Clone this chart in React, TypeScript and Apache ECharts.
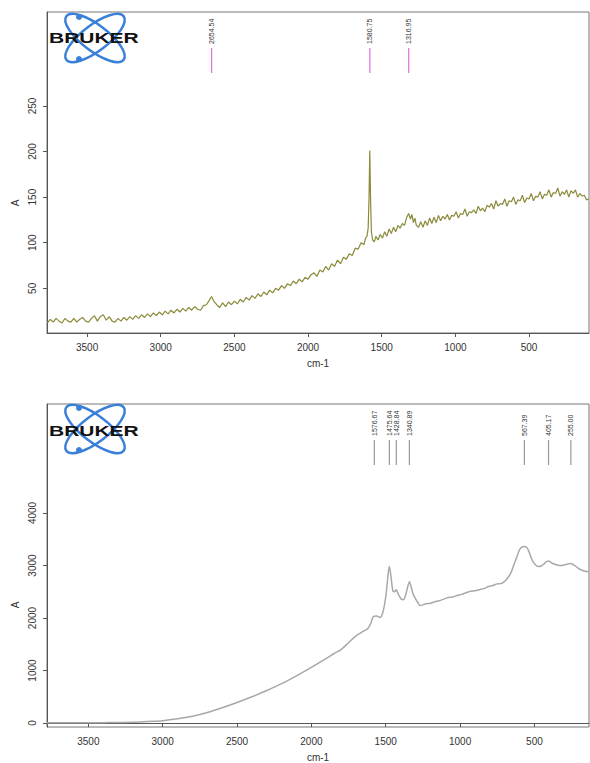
import React, { useEffect, useRef } from "react";
import * as echarts from "echarts";

// Top spectrum: [wavenumber cm-1, intensity A]
const topSpectrum: [number, number][] = [
  [3770, 12], [3750, 16], [3730, 13], [3710, 17], [3690, 14], [3670, 12], [3650, 17], [3630, 14],
  [3610, 13], [3590, 17], [3570, 13], [3550, 16], [3530, 18], [3510, 14], [3490, 13], [3470, 17],
  [3450, 20], [3430, 14], [3410, 19], [3390, 21], [3370, 15], [3350, 19], [3330, 14], [3310, 13],
  [3290, 17], [3270, 14], [3250, 18], [3230, 15], [3210, 19], [3190, 16], [3170, 20], [3150, 17],
  [3130, 21], [3110, 18], [3090, 22], [3070, 19], [3050, 23], [3030, 20], [3010, 24], [2990, 21],
  [2970, 25], [2950, 22], [2930, 26], [2910, 23], [2890, 27], [2870, 24], [2850, 28], [2830, 25],
  [2810, 29], [2790, 26], [2770, 30], [2750, 27], [2730, 26], [2710, 31], [2690, 32], [2670, 37],
  [2655, 41], [2640, 36], [2620, 32], [2600, 29], [2580, 34], [2560, 30], [2540, 35], [2520, 32],
  [2500, 36], [2480, 33], [2460, 38], [2440, 35], [2420, 40], [2400, 37], [2380, 42], [2360, 39],
  [2340, 44], [2320, 41], [2300, 46], [2280, 43], [2260, 48], [2240, 45], [2220, 50], [2200, 48],
  [2180, 53], [2160, 50], [2140, 55], [2120, 53], [2100, 58], [2080, 55], [2060, 60], [2040, 57],
  [2020, 62], [2000, 60], [1980, 65], [1960, 67], [1940, 63], [1920, 70], [1900, 68], [1880, 74],
  [1860, 70], [1840, 77], [1820, 74], [1800, 81], [1780, 77], [1760, 84], [1740, 82], [1720, 88],
  [1700, 86], [1680, 94], [1660, 93], [1640, 100], [1620, 98], [1610, 105], [1600, 107], [1592, 116],
  [1586, 150], [1581, 201], [1576, 150], [1570, 112], [1562, 103], [1550, 101], [1540, 107], [1525, 103],
  [1510, 109], [1495, 105], [1480, 112], [1465, 107], [1450, 115], [1435, 110], [1420, 117], [1405, 112],
  [1390, 119], [1375, 116], [1360, 121], [1345, 119], [1330, 128], [1317, 132], [1305, 126], [1295, 131],
  [1285, 122], [1275, 127], [1265, 119], [1250, 117], [1235, 123], [1220, 117], [1205, 124], [1190, 119],
  [1175, 127], [1160, 121], [1145, 128], [1130, 122], [1115, 130], [1100, 124], [1085, 129], [1070, 126],
  [1055, 131], [1040, 125], [1025, 130], [1010, 129], [995, 134], [980, 127], [965, 132], [950, 131],
  [935, 137], [920, 129], [905, 134], [890, 133], [875, 136], [860, 132], [845, 140], [830, 135],
  [815, 138], [800, 134], [785, 141], [770, 139], [755, 143], [740, 137], [725, 146], [710, 140],
  [695, 143], [680, 142], [665, 148], [650, 140], [635, 146], [620, 145], [605, 150], [590, 142],
  [575, 147], [560, 146], [545, 152], [530, 144], [515, 149], [500, 148], [485, 154], [470, 146],
  [455, 151], [440, 150], [425, 156], [410, 148], [395, 153], [380, 152], [365, 158], [350, 150],
  [335, 155], [320, 154], [305, 160], [290, 151], [275, 156], [260, 153], [245, 158], [230, 150],
  [215, 157], [200, 154], [185, 158], [170, 150], [155, 154], [140, 151], [125, 152], [110, 147],
  [95, 148],
];

// Bottom spectrum: [wavenumber cm-1, intensity A]
const bottomSpectrum: [number, number][] = [
  [3778, 5], [3600, 5], [3400, 8], [3200, 15], [3100, 30], [3000, 45], [2900, 80], [2800, 130],
  [2700, 200], [2600, 290], [2500, 390], [2400, 500], [2300, 620], [2200, 750], [2100, 900],
  [2000, 1060], [1900, 1230], [1850, 1320], [1800, 1400], [1750, 1530], [1700, 1660], [1650, 1750],
  [1620, 1800], [1600, 1900], [1583, 2030], [1560, 2040], [1540, 2010], [1520, 2100], [1500, 2400],
  [1485, 2800], [1476, 2980], [1465, 2800], [1452, 2520], [1440, 2500], [1430, 2540], [1415, 2450],
  [1395, 2360], [1380, 2350], [1365, 2450], [1350, 2620], [1341, 2690], [1330, 2600], [1315, 2450],
  [1300, 2370], [1285, 2300], [1270, 2240], [1250, 2250], [1230, 2270], [1200, 2280], [1170, 2310],
  [1140, 2330], [1110, 2360], [1080, 2390], [1050, 2400], [1020, 2430], [990, 2450], [960, 2480],
  [930, 2510], [900, 2520], [870, 2540], [840, 2560], [810, 2600], [780, 2620], [750, 2650],
  [720, 2660], [690, 2730], [660, 2850], [640, 3000], [620, 3150], [600, 3300], [585, 3350],
  [567, 3360], [550, 3340], [535, 3250], [515, 3100], [495, 3020], [475, 2980], [455, 2990],
  [435, 3030], [415, 3080], [400, 3080], [385, 3050], [360, 3020], [330, 3000], [300, 3010],
  [275, 3030], [255, 3040], [235, 3010], [210, 2960], [190, 2920], [160, 2890], [133, 2880],
];

const topPeaks = [2654.54, 1580.75, 1316.95];
const bottomPeaks = [1576.67, 1475.64, 1428.84, 1340.89, 567.39, 405.17, 255.0];

const xTickValues = [3500, 3000, 2500, 2000, 1500, 1000, 500];
const topYTicks = [50, 100, 150, 200, 250];
const bottomYTicks = [0, 1000, 2000, 3000, 4000];

const FONT = '"Liberation Sans", Arial, sans-serif';
const AXIS_COLOR = "#555";
const LABEL_COLOR = "#333";

function peakRenderer(color: string) {
  return (params: any, api: any) => {
    const x = api.coord([api.value(0), api.value(1)])[0];
    const top = params.coordSys.y;
    return {
      type: "group",
      children: [
        {
          type: "line",
          shape: { x1: x, y1: top + 36, x2: x, y2: top + 61 },
          style: { stroke: color, lineWidth: 1.2 },
        },
        {
          type: "text",
          x: x,
          y: top + 32,
          rotation: Math.PI / 2,
          style: {
            text: Number(api.value(0)).toFixed(2),
            font: `7px ${FONT}`,
            fill: "#333",
            align: "left",
            verticalAlign: "middle",
          },
        },
      ],
    };
  };
}

function logo(cx: number, cy: number, textY: number) {
  const blue = "#3a80d8";
  return [
    {
      type: "ellipse",
      x: cx,
      y: cy,
      rotation: 0.65,
      shape: { cx: 0, cy: 0, rx: 36, ry: 13 },
      style: { fill: "none", stroke: blue, lineWidth: 2.5 },
      z: 10,
    },
    {
      type: "ellipse",
      x: cx,
      y: cy,
      rotation: -0.65,
      shape: { cx: 0, cy: 0, rx: 36, ry: 13 },
      style: { fill: "none", stroke: blue, lineWidth: 2.5 },
      z: 10,
    },
    { type: "circle", shape: { cx: cx - 16, cy: cy - 21, r: 3 }, style: { fill: blue }, z: 11 },
    { type: "circle", shape: { cx: cx - 16, cy: cy + 21, r: 3 }, style: { fill: blue }, z: 11 },
    {
      type: "text",
      x: 49,
      y: textY,
      scaleX: 1.5,
      style: {
        text: "BRUKER",
        font: `bold 14px ${FONT}`,
        fill: "#111",
        align: "left",
        verticalAlign: "middle",
      },
      z: 12,
    },
  ];
}

const plainNumber = (v: number) => String(v);

function xAxisCfg(gridIndex: number, min: number, max: number) {
  return {
    type: "value",
    gridIndex,
    min,
    max,
    inverse: true,
    name: "cm-1",
    nameLocation: "middle",
    nameGap: 25,
    nameTextStyle: { fontFamily: FONT, fontSize: 10, color: LABEL_COLOR },
    axisLine: { show: true, lineStyle: { color: AXIS_COLOR, width: 1 } },
    axisTick: {
      show: true,
      length: 4,
      customValues: xTickValues,
      lineStyle: { color: AXIS_COLOR },
    },
    axisLabel: {
      customValues: xTickValues,
      formatter: plainNumber,
      margin: 9,
      fontFamily: FONT,
      fontSize: 10,
      color: LABEL_COLOR,
    },
    splitLine: { show: false },
  };
}

function yAxisCfg(gridIndex: number, min: number, max: number, ticks: number[]) {
  return {
    type: "value",
    gridIndex,
    min,
    max,
    axisLine: { show: true, lineStyle: { color: AXIS_COLOR, width: 1 } },
    axisTick: { show: true, length: 4, customValues: ticks, lineStyle: { color: AXIS_COLOR } },
    axisLabel: {
      customValues: ticks,
      formatter: plainNumber,
      rotate: 90,
      margin: 10,
      fontFamily: FONT,
      fontSize: 10,
      color: LABEL_COLOR,
    },
    splitLine: { show: false },
  };
}

export default function App() {
  const ref = useRef<HTMLDivElement>(null);

  useEffect(() => {
    if (!ref.current) return;
    const chart = echarts.init(ref.current, undefined, { renderer: "svg" });
    chart.setOption({
      animation: false,
      backgroundColor: "#fff",
      grid: [
        { left: 47, top: 12, width: 542, height: 321, show: true, borderColor: "#777", borderWidth: 1 },
        { left: 47, top: 404, width: 542, height: 326, show: true, borderColor: "#777", borderWidth: 1 },
      ],
      xAxis: [xAxisCfg(0, 93, 3772), xAxisCfg(1, 133, 3778)],
      yAxis: [yAxisCfg(0, 1, 353, topYTicks), yAxisCfg(1, -75, 6075, bottomYTicks)],
      series: [
        {
          type: "line",
          xAxisIndex: 0,
          yAxisIndex: 0,
          data: topSpectrum,
          showSymbol: false,
          lineStyle: { color: "#8b8a3a", width: 1.2 },
          z: 3,
        },
        {
          type: "line",
          xAxisIndex: 1,
          yAxisIndex: 1,
          data: bottomSpectrum,
          showSymbol: false,
          smooth: 0.3,
          lineStyle: { color: "#a8a8a8", width: 1.5 },
          z: 3,
        },
        {
          type: "custom",
          xAxisIndex: 0,
          yAxisIndex: 0,
          data: topPeaks.map((p) => [p, 100]),
          renderItem: peakRenderer("#e070e0"),
          z: 4,
        },
        {
          type: "custom",
          xAxisIndex: 1,
          yAxisIndex: 1,
          data: bottomPeaks.map((p) => [p, 1000]),
          renderItem: peakRenderer("#999999"),
          z: 4,
        },
      ],
      graphic: [
        ...logo(95, 38, 38),
        ...logo(95, 429, 431),
        {
          type: "text",
          x: 15,
          y: 203,
          rotation: Math.PI / 2,
          style: { text: "A", font: `10px ${FONT}`, fill: LABEL_COLOR, align: "center", verticalAlign: "middle" },
        },
        {
          type: "text",
          x: 15,
          y: 605,
          rotation: Math.PI / 2,
          style: { text: "A", font: `10px ${FONT}`, fill: LABEL_COLOR, align: "center", verticalAlign: "middle" },
        },
      ],
    });
    return () => chart.dispose();
  }, []);

  return (
    <div
      ref={ref}
      style={{ position: "absolute", left: 0, top: 0, width: 590, height: 763, background: "#fff" }}
    />
  );
}
